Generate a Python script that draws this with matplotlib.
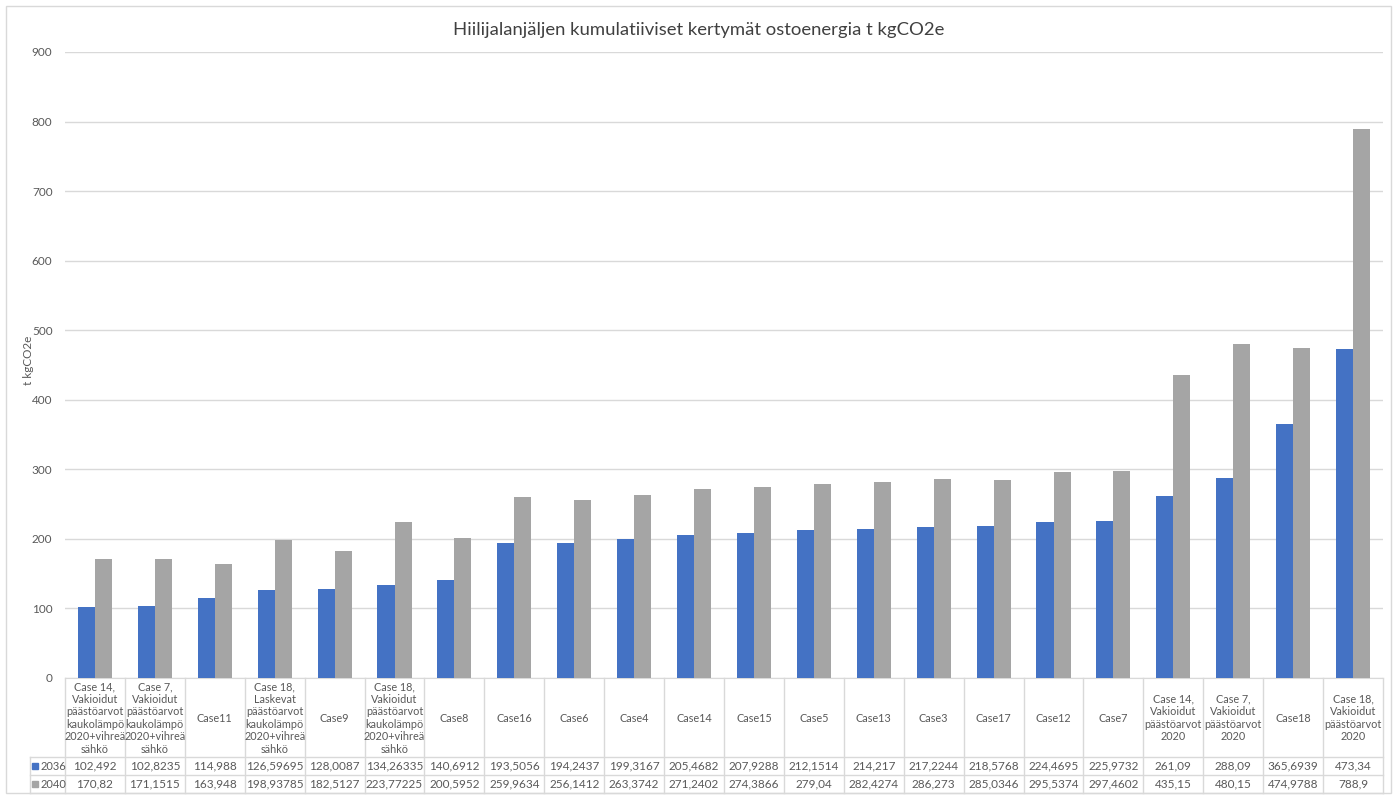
"""
Hiilijalanjäljen kumulatiiviset kertymät - Excel style bar chart with data table
"""
import matplotlib
matplotlib.use("Agg")
import matplotlib.pyplot as plt
from matplotlib.patches import Rectangle

plt.rcParams['font.family'] = ['Lato', 'DejaVu Sans']

# data
categories = [
    "Case 14,\nVakioidut\npäästöarvot\nkaukolämpö\n2020+vihreä\nsähkö",
    "Case 7,\nVakioidut\npäästöarvot\nkaukolämpö\n2020+vihreä\nsähkö",
    "Case11",
    "Case 18,\nLaskevat\npäästöarvot\nkaukolämpö\n2020+vihreä\nsähkö",
    "Case9",
    "Case 18,\nVakioidut\npäästöarvot\nkaukolämpö\n2020+vihreä\nsähkö",
    "Case8", "Case16", "Case6", "Case4", "Case14", "Case15", "Case5",
    "Case13", "Case3", "Case17", "Case12", "Case7",
    "Case 14,\nVakioidut\npäästöarvot\n2020",
    "Case 7,\nVakioidut\npäästöarvot\n2020",
    "Case18",
    "Case 18,\nVakioidut\npäästöarvot\n2020",
]
values_2036 = [102.492, 102.8235, 114.988, 126.59695, 128.0087, 134.26335,
               140.6912, 193.5056, 194.2437, 199.3167, 205.4682, 207.9288,
               212.1514, 214.217, 217.2244, 218.5768, 224.4695, 225.9732,
               261.09, 288.09, 365.6939, 473.34]
values_2040 = [170.82, 171.1515, 163.948, 198.93785, 182.5127, 223.77225,
               200.5952, 259.9634, 256.1412, 263.3742, 271.2402, 274.3866,
               279.04, 282.4274, 286.273, 285.0346, 295.5374, 297.4602,
               435.15, 480.15, 474.9788, 788.9]
series_names = ["2036", "2040"]
yticks = list(range(0, 1000, 100))

BLUE = "#4472C4"
GREY = "#A5A5A5"
GRID = "#D9D9D9"
TXT = "#595959"

W, H = 1397, 795


def fx(px):
    return px / W


def fy(py):
    return 1 - py / H


def fmt(v):
    return repr(v).replace('.', ',')


fig = plt.figure(figsize=(W / 100, H / 100), dpi=100)
fig.patches.append(Rectangle((fx(6), fy(793)), fx(1391) - fx(6), fy(6) - fy(793),
                             transform=fig.transFigure, fill=False,
                             edgecolor=GRID, linewidth=1))

left, right, top, bottom = 65, 1383, 52, 678
ax = fig.add_axes([fx(left), fy(bottom), fx(right) - fx(left), fy(top) - fy(bottom)])
n = len(categories)
x = list(range(n))
bw = 0.285
ax.bar([i - bw / 2 for i in x], values_2036, width=bw, color=BLUE, zorder=3)
ax.bar([i + bw / 2 for i in x], values_2040, width=bw, color=GREY, zorder=3)
ax.set_xlim(-0.5, n - 0.5)
ax.set_ylim(0, 900)
ax.set_yticks(yticks)
ax.set_xticks([])
ax.yaxis.grid(True, color=GRID, linewidth=1, zorder=0)
for s in ['top', 'right', 'left']:
    ax.spines[s].set_visible(False)
ax.spines['bottom'].set_color(GRID)
ax.tick_params(axis='y', length=0, pad=9, labelsize=8.5, labelcolor=TXT)
fig.text(fx(29), fy(360), "t kgCO2e", rotation=90, ha='center', va='center',
         fontsize=8.5, color=TXT)
fig.text(0.5, fy(30), "Hiilijalanjäljen kumulatiiviset kertymät ostoenergia t kgCO2e",
         ha='center', va='center', fontsize=13.3, color="#404040")

# data table below the chart
tab_h = 793 - bottom
tab = fig.add_axes([fx(left), fy(793), fx(right) - fx(left), fy(bottom) - fy(793)])
tab.set_xlim(-0.5, n - 0.5)
tab.set_ylim(tab_h, 0)
tab.axis('off')
unit = (right - left) / n
x_leg = -0.5 - 35 / unit
hdr = 79
row_h = (tab_h - hdr) / 2

for k in range(n + 1):
    tab.plot([k - 0.5, k - 0.5], [0, tab_h], color=GRID, lw=1, clip_on=False)
tab.plot([x_leg, x_leg], [hdr, tab_h], color=GRID, lw=1, clip_on=False)
for yy in [hdr, hdr + row_h, tab_h]:
    tab.plot([x_leg, n - 0.5], [yy, yy], color=GRID, lw=1, clip_on=False)

for i, lab in enumerate(categories):
    tab.text(i, hdr / 2 + 0.5, lab, ha='center', va='center', fontsize=7.8,
             color=TXT, linespacing=1.16, clip_on=False)
    tab.text(i, hdr + row_h / 2, fmt(values_2036[i]), ha='center', va='center',
             fontsize=8.5, color=TXT)
    tab.text(i, hdr + 1.5 * row_h, fmt(values_2040[i]), ha='center', va='center',
             fontsize=8.5, color=TXT)

for j, (name, col) in enumerate(zip(series_names, [BLUE, GREY])):
    yy = hdr + (j + 0.5) * row_h
    tab.plot([x_leg + 5 / unit], [yy], marker='s', markersize=4, color=col,
             linestyle='none', clip_on=False)
    tab.text(x_leg + 10.5 / unit, yy, name, ha='left', va='center', fontsize=8,
             color=TXT, clip_on=False)

fig.savefig("out.png", dpi=100)
